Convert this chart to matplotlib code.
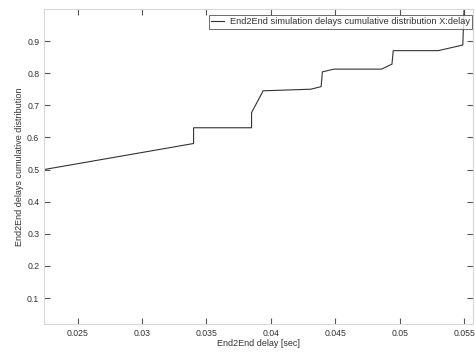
import matplotlib
matplotlib.use("Agg")
import matplotlib.pyplot as plt

# End2End delay cdf
delay = [0.0224, 0.0340, 0.0340, 0.0385, 0.0385, 0.0394, 0.0431, 0.0439,
         0.0440, 0.0449, 0.0486, 0.0494, 0.0495, 0.0530, 0.0549, 0.0550,
         0.0557]
cdf = [0.500, 0.581, 0.630, 0.630, 0.677, 0.745, 0.750, 0.758,
       0.804, 0.8125, 0.8125, 0.828, 0.870, 0.870, 0.8875, 1.000,
       1.000]

xticks = [0.025, 0.03, 0.035, 0.04, 0.045, 0.05, 0.055]
xlabels = ["0.025", "0.03", "0.035", "0.04", "0.045", "0.05", "0.055"]
yticks = [0.1, 0.2, 0.3, 0.4, 0.5, 0.6, 0.7, 0.8, 0.9]

plt.rcParams["font.family"] = ["Liberation Sans", "DejaVu Sans"]

fig = plt.figure(figsize=(4.75, 3.55), dpi=100)
ax = fig.add_axes([0.093, 0.088, 0.903, 0.887])

ax.plot(delay, cdf, color="#333333", linewidth=0.8,
        label="End2End simulation delays cumulative distribution X:delay")

ax.set_xlim(0.0224, 0.0557)
ax.set_ylim(0.02, 1.0)
ax.set_xticks(xticks)
ax.set_xticklabels(xlabels)
ax.set_yticks(yticks)

for s in ax.spines.values():
    s.set_color("#d8d8d8")
    s.set_linewidth(0.8)

ax.tick_params(direction="in", length=4, width=0.8, color="#555555",
               labelsize=6.3, labelcolor="#333333",
               top=True, right=True)

ax.set_xlabel("End2End delay [sec]", fontsize=6.5, color="#333333",
              labelpad=1)
ax.set_ylabel("End2End delays cumulative distribution", fontsize=6.5,
              color="#333333", labelpad=2)

leg = ax.legend(loc="upper right", bbox_to_anchor=(0.998, 0.981),
                fontsize=6.7, frameon=True, fancybox=False,
                borderpad=0.25, handlelength=1.4, handletextpad=0.6,
                borderaxespad=0)
leg.get_frame().set_edgecolor("#444444")
leg.get_frame().set_linewidth(0.7)
for t in leg.get_texts():
    t.set_color("#333333")

fig.savefig("out.png", dpi=100)
